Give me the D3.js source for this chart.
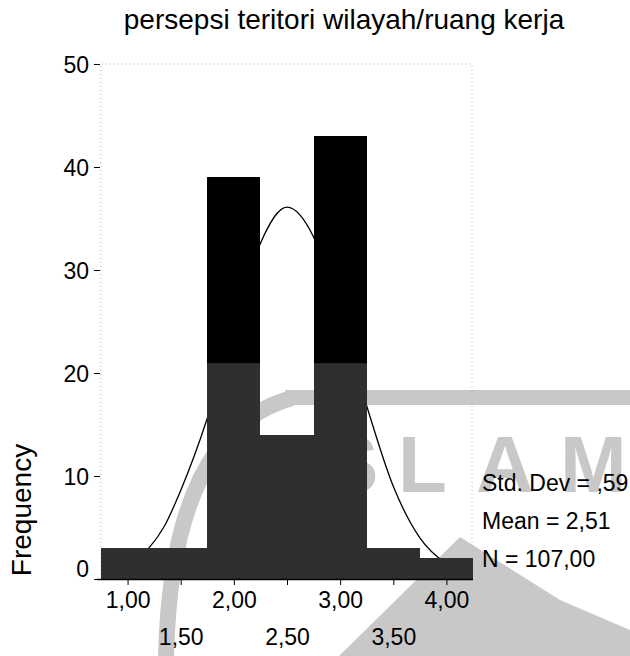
<!DOCTYPE html>
<html>
<head>
<meta charset="utf-8">
<script src="https://cdn.jsdelivr.net/npm/d3@7"></script>
<style>
  body { margin: 0; background: #fff; }
  text { font-family: "Liberation Sans", Arial, sans-serif; fill: #000; }
</style>
</head>
<body>
<script>
// data
const chartTitle = "persepsi teritori wilayah/ruang kerja";
const binStarts = [0.75, 1.25, 1.75, 2.25, 2.75, 3.25, 3.75];
const binWidth = 0.5;
const counts = [3, 3, 39, 14, 43, 3, 2];
const curveX = [0.75, 1.0, 1.2, 1.35, 1.5, 1.75, 2.0, 2.25, 2.5, 2.75, 3.0, 3.25, 3.5, 3.75, 4.0, 4.25];
const curveY = [0.4, 1.4, 3.0, 5.2, 8.6, 15.6, 24.5, 32.6, 36.1, 33.2, 25.5, 16.8, 9.0, 4.0, 1.5, 0.5];
const yTicks = [0, 10, 20, 30, 40, 50];
const xTicks = [1, 1.5, 2, 2.5, 3, 3.5, 4];
const xTickLabels = ["1,00", "1,50", "2,00", "2,50", "3,00", "3,50", "4,00"];
const statsLines = ["Std. Dev = ,59", "Mean = 2,51", "N = 107,00"];

const w = 630;
const h = 656;
const plotL = 101, plotR = 473, plotT = 64, plotB = 579;

const xScale = d3.scaleLinear().domain([0.75, 4.25]).range([plotL, plotR]);
const yScale = d3.scaleLinear().domain([0, 50]).range([plotB, plotT]);

const svg = d3.select("body")
  .append("svg")
  .attr("width", w)
  .attr("height", h);

// scanned page watermark (behind the chart)
const wm = svg.append("g").attr("fill", "#c8c8c8").attr("stroke", "none");
wm.append("path")
  .attr("d", "M166,660 Q170,432 292,398")
  .attr("fill", "none")
  .attr("stroke", "#c8c8c8")
  .attr("stroke-width", 16);
wm.append("rect").attr("x", 285).attr("y", 390).attr("width", 345).attr("height", 15);
wm.append("text")
  .attr("x", "297 325 398 476 560")
  .attr("y", 492)
  .style("font-size", "80px")
  .style("font-weight", "bold")
  .style("fill", "#c8c8c8")
  .text("ISLAM");
wm.append("path").attr("d", "M335,660 L460,537 L560,600 L630,630 L630,660 Z");

// dotted frame
const frame = svg.append("g")
  .attr("fill", "none")
  .attr("stroke", "#b0b0b0")
  .attr("stroke-dasharray", "1 3");
frame.append("path").attr("d", `M${plotL},${plotB} V${plotT} H${plotR - 1} V${plotB}`);

// normal curve, drawn under the bars
const line = d3.line()
  .x((d) => xScale(d[0]))
  .y((d) => yScale(d[1]))
  .curve(d3.curveMonotoneX);
svg.append("path")
  .datum(curveX.map((x, i) => [x, curveY[i]]))
  .attr("d", line)
  .attr("fill", "none")
  .attr("stroke", "#000")
  .attr("stroke-width", 1.3);

// bars: black, greyed in the lower part like the scan
const grad = svg.append("defs").append("linearGradient")
  .attr("id", "barFill")
  .attr("gradientUnits", "userSpaceOnUse")
  .attr("x1", 0).attr("x2", 0)
  .attr("y1", yScale(21)).attr("y2", yScale(21) + 1);
grad.append("stop").attr("offset", 0).attr("stop-color", "#000");
grad.append("stop").attr("offset", 1).attr("stop-color", "#2f2f2f");

svg.selectAll("rect.bar")
  .data(counts)
  .enter()
  .append("rect")
  .attr("class", "bar")
  .attr("x", (d, i) => Math.round(xScale(binStarts[i])))
  .attr("y", (d) => Math.round(yScale(d)))
  .attr("width", (d, i) => Math.round(xScale(binStarts[i] + binWidth)) - Math.round(xScale(binStarts[i])))
  .attr("height", (d) => plotB - Math.round(yScale(d)))
  .attr("fill", "url(#barFill)")
  .attr("shape-rendering", "crispEdges");

// y axis
const yAxis = d3.axisLeft(yScale)
  .tickValues(yTicks)
  .tickSize(6)
  .tickPadding(5)
  .tickFormat(d3.format("d"));
const gy = svg.append("g")
  .attr("transform", `translate(${plotL - 1},0)`)
  .call(yAxis);
gy.select(".domain").remove();
gy.selectAll("text")
  .style("font-size", "23px")
  .style("font-family", "Liberation Sans, Arial, sans-serif")
  .attr("dy", (d) => d === 0 ? "-0.12em" : "0.36em");

// x axis, labels on two rows
const xAxis = d3.axisBottom(xScale)
  .tickValues(xTicks)
  .tickSize(6)
  .tickPadding(0)
  .tickFormat((d, i) => xTickLabels[i]);
const gx = svg.append("g")
  .attr("transform", `translate(0,${plotB})`)
  .call(xAxis);
gx.select(".domain").attr("d", `M${plotL - 4},0.5H${plotR}`).attr("stroke-width", 1.5);
gx.selectAll("text")
  .style("font-size", "23px")
  .style("font-family", "Liberation Sans, Arial, sans-serif")
  .attr("dy", null)
  .attr("y", (d, i) => i % 2 === 0 ? 29 : 66);

// title
svg.append("text")
  .attr("x", 344)
  .attr("y", 29)
  .attr("text-anchor", "middle")
  .style("font-size", "28px")
  .text(chartTitle);

// y label
svg.append("text")
  .attr("transform", "translate(31,510) rotate(-90)")
  .attr("text-anchor", "middle")
  .style("font-size", "28px")
  .text("Frequency");

// stats box
svg.selectAll("text.stat")
  .data(statsLines)
  .enter()
  .append("text")
  .attr("class", "stat")
  .attr("x", 482)
  .attr("y", (d, i) => 491 + i * 38)
  .style("font-size", "23px")
  .text((d) => d);
</script>
</body>
</html>
